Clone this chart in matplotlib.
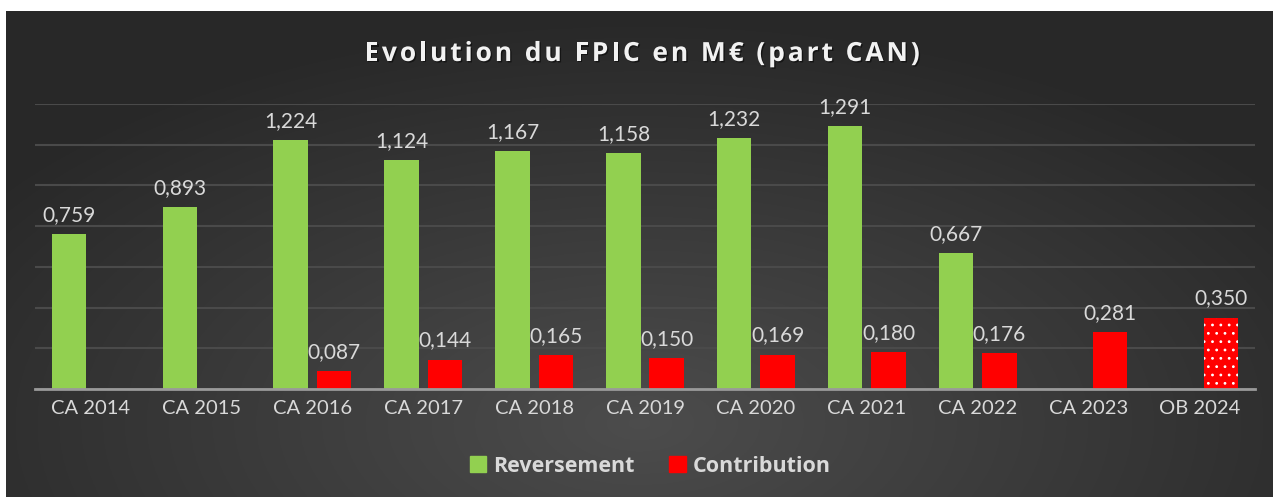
import numpy as np
import matplotlib
matplotlib.use("Agg")
import matplotlib.pyplot as plt
from matplotlib.patches import Patch
from matplotlib.textpath import TextToPath
from matplotlib.font_manager import FontProperties
import matplotlib.patheffects as pe

categories = ["CA 2014", "CA 2015", "CA 2016", "CA 2017", "CA 2018", "CA 2019",
              "CA 2020", "CA 2021", "CA 2022", "CA 2023", "OB 2024"]
reversement = [0.759, 0.893, 1.224, 1.124, 1.167, 1.158, 1.232, 1.291, 0.667, None, None]
contribution = [None, None, 0.087, 0.144, 0.165, 0.150, 0.169, 0.180, 0.176, 0.281, 0.350]
hatched = [False] * 10 + [True]
title = "Evolution du FPIC en M€ (part CAN)"

W, H = 1273, 497
fig = plt.figure(figsize=(W / 100, H / 100), dpi=100, facecolor="white")

# background with radial gradient
bg = fig.add_axes([6 / W, 0, 1 - 6 / W, 1 - 11 / H])
bg.set_axis_off()
yy, xx = np.mgrid[0:1:300j, 0:1:800j]
r = np.sqrt(((xx - 0.5) / 0.75) ** 2 + ((yy - 0.15) / 1.0) ** 2)
val = np.clip(0.30 - 0.17 * r, 0.16, 0.30)
img = np.dstack([val, val, val])
bg.imshow(img, origin="lower", aspect="auto", extent=[0, 1, 0, 1])
bg.set_xlim(0, 1)
bg.set_ylim(0, 1)

ax = fig.add_axes([35 / W, 1 - 389 / H, (1255 - 35) / W, (389 - 104) / H])
ax.patch.set_alpha(0)
green = "#92d050"
red = "#ff0000"
bw = 0.31
off = 0.195
x = np.arange(len(categories))

font = "Lato"
lab_col = "#d9d9d9"
lab_size = 15

for i, v in enumerate(reversement):
    if v is None:
        continue
    ax.bar(x[i] - off, v, width=bw, color=green, zorder=3)
    ax.text(x[i] - off, v + 0.045, f"{v:.3f}".replace(".", ","), ha="center", va="bottom",
            color=lab_col, fontsize=lab_size, family=font)

plt.rcParams["hatch.linewidth"] = 0.8
for i, v in enumerate(contribution):
    if v is None:
        continue
    if hatched[i]:
        ax.bar(x[i] + off, v, width=bw, color=red, edgecolor="white", linewidth=0,
               hatch="..", zorder=3)
    else:
        ax.bar(x[i] + off, v, width=bw, color=red, zorder=3)
    ax.text(x[i] + off, v + 0.045, f"{v:.3f}".replace(".", ","), ha="center", va="bottom",
            color=lab_col, fontsize=lab_size, family=font)

ax.set_xlim(-0.5, len(categories) - 0.5)
ax.set_ylim(0, 1.4)
ax.set_yticks(np.arange(0, 1.41, 0.2))
ax.yaxis.grid(True, color="#4a4a4a", linewidth=1.5, zorder=0)
ax.set_yticklabels([])
ax.tick_params(axis="y", length=0)
ax.set_xticks(x)
ax.set_xticklabels(categories, color=lab_col, fontsize=14.5, family=font)
ax.tick_params(axis="x", length=0, pad=8)
for s in ["top", "right", "left"]:
    ax.spines[s].set_visible(False)
ax.spines["bottom"].set_color("#9a9a9a")
ax.spines["bottom"].set_linewidth(2)
ax.spines["bottom"].set_zorder(4)

# letter-spaced title
tfont = FontProperties(family="Open Sans", weight="bold", size=19)
t2p = TextToPath()
spacing = 2.9  # extra px between letters
widths = []
for ch in title:
    w, h, d = t2p.get_text_width_height_descent(ch, tfont, ismath=False)
    widths.append(w * 100 / 72)  # points -> px at dpi 100
total = sum(widths) + spacing * (len(title) - 1)
cx = 642
xpos = cx - total / 2
shadow = [pe.withSimplePatchShadow(offset=(1, -1), shadow_rgbFace="black", alpha=0.5)]
for ch, w in zip(title, widths):
    fig.text(xpos / W, 1 - 61 / H, ch, ha="left", va="baseline", color="#f2f2f2",
             fontproperties=tfont, path_effects=shadow)
    xpos += w + spacing

handles = [Patch(color=green, label="Reversement"), Patch(color=red, label="Contribution")]
leg = fig.legend(handles=handles, loc="center", bbox_to_anchor=(0.511, 1 - 466 / H), ncol=2,
                 frameon=False, handlelength=0.75, handleheight=0.75, columnspacing=1.6,
                 handletextpad=0.35, prop={"family": "Open Sans", "weight": "bold", "size": 15.5})
for t in leg.get_texts():
    t.set_color(lab_col)

fig.savefig("out.png", dpi=100, facecolor="white")
